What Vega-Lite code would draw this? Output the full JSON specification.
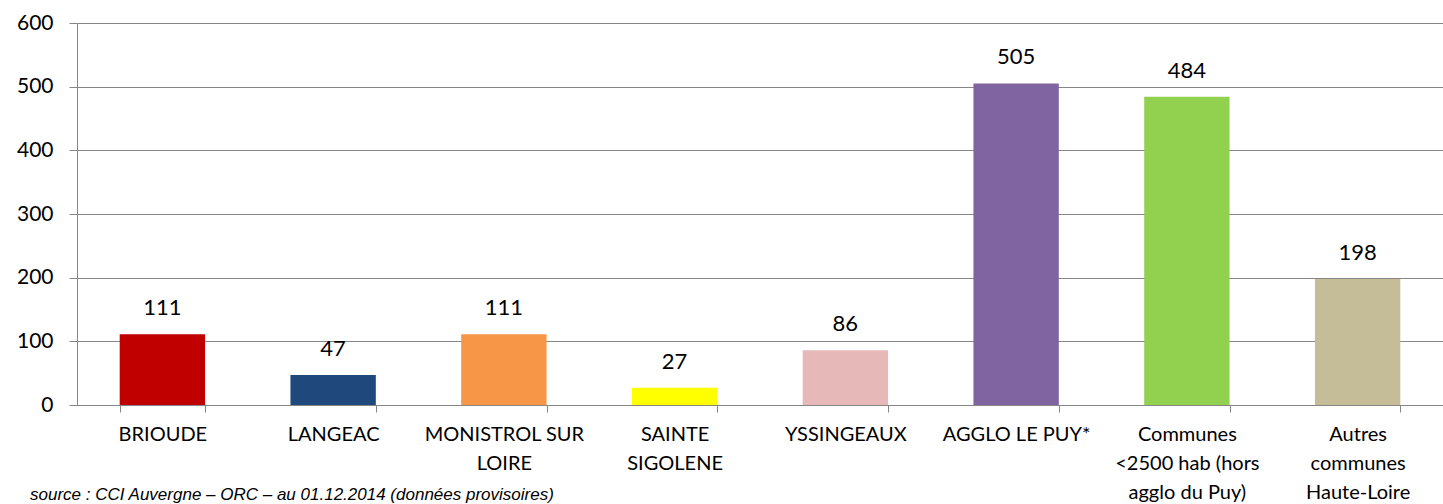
{
  "$schema": "https://vega.github.io/schema/vega-lite/v6.json",
  "autosize": {"type": "none"},
  "width": 1366,
  "height": 382,
  "padding": {"left": 77, "top": 23, "right": 0, "bottom": 99},
  "background": "white",
  "data": {
    "values": [
      {"commune": "BRIOUDE", "valeur": 111, "couleur": "#C00000"},
      {"commune": "LANGEAC", "valeur": 47, "couleur": "#1F497D"},
      {"commune": "MONISTROL SUR|LOIRE", "valeur": 111, "couleur": "#F79646"},
      {"commune": "SAINTE|SIGOLENE", "valeur": 27, "couleur": "#FFFF00"},
      {"commune": "YSSINGEAUX", "valeur": 86, "couleur": "#E6B9B8"},
      {"commune": "AGGLO LE PUY*", "valeur": 505, "couleur": "#8064A2"},
      {"commune": "Communes|<2500 hab  (hors|agglo du Puy)", "valeur": 484, "couleur": "#92D050"},
      {"commune": "Autres|communes|Haute-Loire", "valeur": 198, "couleur": "#C4BD97"}
    ]
  },
  "title": {
    "text": "source : CCI Auvergne – ORC – au 01.12.2014 (données provisoires)",
    "orient": "bottom",
    "anchor": "start",
    "frame": "group",
    "dx": -47,
    "offset": -15,
    "font": "Liberation Sans",
    "fontSize": 17,
    "fontStyle": "italic",
    "fontWeight": "normal",
    "color": "#000000"
  },
  "encoding": {
    "x": {
      "field": "commune",
      "type": "nominal",
      "sort": null,
      "scale": {"paddingInner": 0.5, "paddingOuter": 0.25},
      "axis": {
        "title": null,
        "labelAngle": 0,
        "labelExpr": "isValid(datum.value) ? split(datum.value, '|') : ''",
        "labelFont": "Lato",
        "labelFontSize": 20,
        "labelColor": "#000000",
        "labelLineHeight": 29,
        "labelPadding": 12,
        "labelBaseline": "top",
        "tickBand": "extent",
        "tickSize": 7,
        "tickColor": "#868686",
        "domainColor": "#868686",
        "grid": false
      }
    },
    "y": {
      "field": "valeur",
      "type": "quantitative",
      "scale": {"domain": [0, 600]},
      "axis": {
        "title": null,
        "values": [0, 100, 200, 300, 400, 500, 600],
        "labelFont": "Lato",
        "labelFontSize": 21,
        "labelColor": "#000000",
        "labelPadding": 16,
        "tickSize": 8,
        "tickColor": "#868686",
        "domainColor": "#868686",
        "gridColor": "#868686",
        "grid": true
      }
    }
  },
  "layer": [
    {
      "mark": {"type": "bar"},
      "encoding": {
        "color": {"field": "couleur", "type": "nominal", "scale": null, "legend": null}
      }
    },
    {
      "mark": {"type": "text", "baseline": "alphabetic", "dy": -19, "font": "Lato", "fontSize": 22, "color": "#000000"},
      "encoding": {
        "text": {"field": "valeur", "type": "quantitative"}
      }
    }
  ],
  "config": {
    "view": {"stroke": null}
  }
}
